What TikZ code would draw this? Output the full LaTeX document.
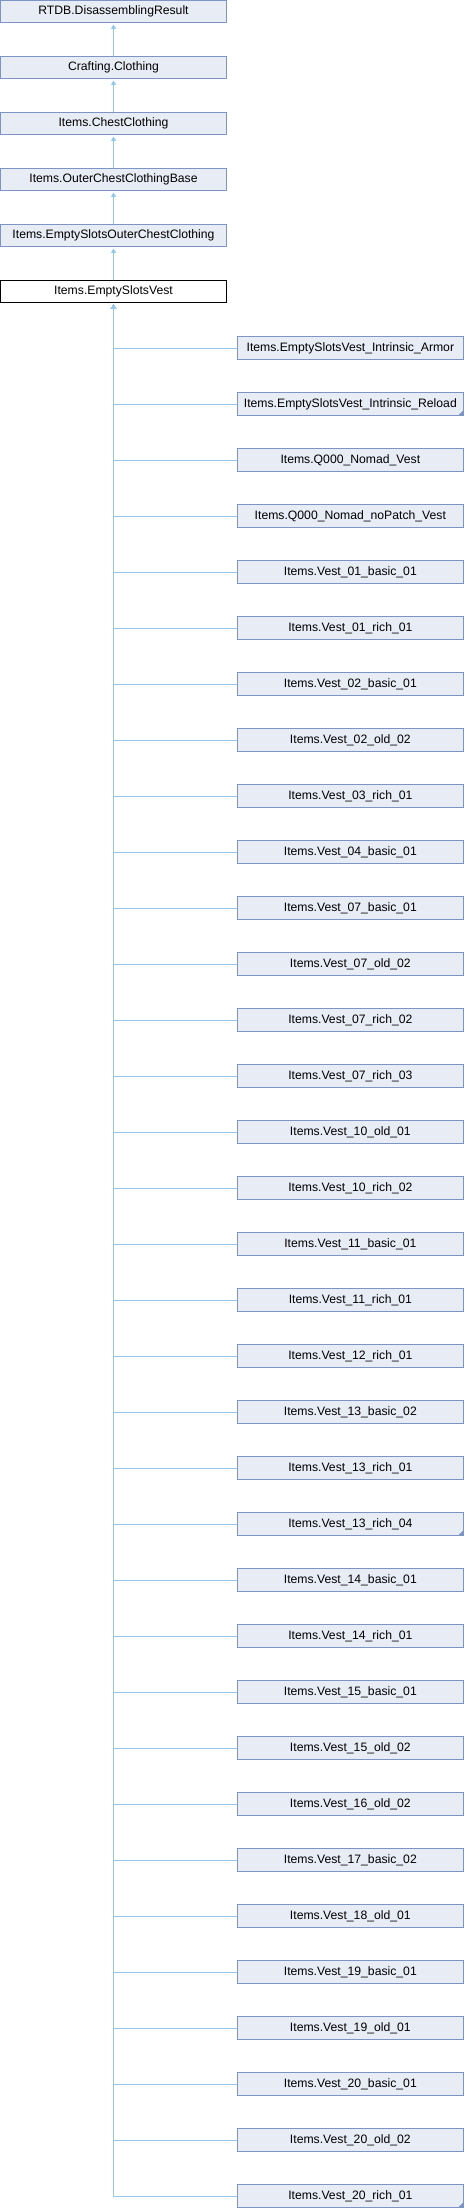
\documentclass[tikz,border=0pt]{standalone}
\usepackage{fontspec}
\setmainfont{Liberation Sans}
\usepackage{xcolor}
\usetikzlibrary{arrows.meta}

\definecolor{boxfill}{HTML}{E8ECF5}
\definecolor{boxline}{HTML}{7C95C6}
\definecolor{edgeblue}{HTML}{94C8EA}

\tikzset{
	classbox/.style={draw=boxline, fill=boxfill, line width=1pt, minimum width=226pt,
		minimum height=22.5pt, inner sep=0pt, outer sep=0pt, font=\fontsize{12.2}{14}\selectfont},
	mainbox/.style={classbox, draw=black, fill=white},
	inherit/.style={draw=edgeblue, line width=1pt, -{Triangle[length=4.5pt,width=5pt]}, shorten >=1.5pt},
	fold/.style={fill=boxline}
}

\begin{document}
\begin{tikzpicture}[x=1pt,y=1pt]
				  \useasboundingbox (0,0) rectangle (464,-2208);
				  % base classes
				  \node[classbox] (rtdb) at (113.5,-11.7) {RTDB.DisassemblingResult};
				  \node[classbox] (crafting) at (113.5,-67.7) {Crafting.Clothing};
				  \node[classbox] (chest) at (113.5,-123.7) {Items.ChestClothing};
				  \node[classbox] (outer) at (113.5,-179.7) {Items.OuterChestClothingBase};
				  \node[classbox] (emptyouter) at (113.5,-235.7) {Items.EmptySlotsOuterChestClothing};
				  \node[mainbox] (vest) at (113.5,-291.7) {Items.EmptySlotsVest};
				  \draw[inherit] (crafting.north) -- (rtdb.south);
				  \draw[inherit] (chest.north) -- (crafting.south);
				  \draw[inherit] (outer.north) -- (chest.south);
				  \draw[inherit] (emptyouter.north) -- (outer.south);
				  \draw[inherit] (vest.north) -- (emptyouter.south);
				  % derived classes
				  \node[classbox] (c1) at (350.35,-348) {Items.EmptySlotsVest\_Intrinsic\_Armor};
				  \node[classbox] (c2) at (350.35,-404) {Items.EmptySlotsVest\_Intrinsic\_Reload};
				  \node[classbox] (c3) at (350.35,-460) {Items.Q000\_Nomad\_Vest};
				  \node[classbox] (c4) at (350.35,-516) {Items.Q000\_Nomad\_noPatch\_Vest};
				  \node[classbox] (c5) at (350.35,-572) {Items.Vest\_01\_basic\_01};
				  \node[classbox] (c6) at (350.35,-628) {Items.Vest\_01\_rich\_01};
				  \node[classbox] (c7) at (350.35,-684) {Items.Vest\_02\_basic\_01};
				  \node[classbox] (c8) at (350.35,-740) {Items.Vest\_02\_old\_02};
				  \node[classbox] (c9) at (350.35,-796) {Items.Vest\_03\_rich\_01};
				  \node[classbox] (c10) at (350.35,-852) {Items.Vest\_04\_basic\_01};
				  \node[classbox] (c11) at (350.35,-908) {Items.Vest\_07\_basic\_01};
				  \node[classbox] (c12) at (350.35,-964) {Items.Vest\_07\_old\_02};
				  \node[classbox] (c13) at (350.35,-1020) {Items.Vest\_07\_rich\_02};
				  \node[classbox] (c14) at (350.35,-1076) {Items.Vest\_07\_rich\_03};
				  \node[classbox] (c15) at (350.35,-1132) {Items.Vest\_10\_old\_01};
				  \node[classbox] (c16) at (350.35,-1188) {Items.Vest\_10\_rich\_02};
				  \node[classbox] (c17) at (350.35,-1244) {Items.Vest\_11\_basic\_01};
				  \node[classbox] (c18) at (350.35,-1300) {Items.Vest\_11\_rich\_01};
				  \node[classbox] (c19) at (350.35,-1356) {Items.Vest\_12\_rich\_01};
				  \node[classbox] (c20) at (350.35,-1412) {Items.Vest\_13\_basic\_02};
				  \node[classbox] (c21) at (350.35,-1468) {Items.Vest\_13\_rich\_01};
				  \node[classbox] (c22) at (350.35,-1524) {Items.Vest\_13\_rich\_04};
				  \node[classbox] (c23) at (350.35,-1580) {Items.Vest\_14\_basic\_01};
				  \node[classbox] (c24) at (350.35,-1636) {Items.Vest\_14\_rich\_01};
				  \node[classbox] (c25) at (350.35,-1692) {Items.Vest\_15\_basic\_01};
				  \node[classbox] (c26) at (350.35,-1748) {Items.Vest\_15\_old\_02};
				  \node[classbox] (c27) at (350.35,-1804) {Items.Vest\_16\_old\_02};
				  \node[classbox] (c28) at (350.35,-1860) {Items.Vest\_17\_basic\_02};
				  \node[classbox] (c29) at (350.35,-1916) {Items.Vest\_18\_old\_01};
				  \node[classbox] (c30) at (350.35,-1972) {Items.Vest\_19\_basic\_01};
				  \node[classbox] (c31) at (350.35,-2028) {Items.Vest\_19\_old\_01};
				  \node[classbox] (c32) at (350.35,-2084) {Items.Vest\_20\_basic\_01};
				  \node[classbox] (c33) at (350.35,-2140) {Items.Vest\_20\_old\_02};
				  \node[classbox] (c34) at (350.35,-2196) {Items.Vest\_20\_rich\_01};
				  \foreach \n in {1,...,34}
				    \draw[inherit] (c\n.west) -| (vest.south);
				  % folded corners
				  \foreach \n in {2,22,34}
				    \fill[fold] ([shift={(-0.5,0.5)}]c\n.south east) -- ++(-4,0) -- ++(4,4) -- cycle;
				\end{tikzpicture}
\end{document}
